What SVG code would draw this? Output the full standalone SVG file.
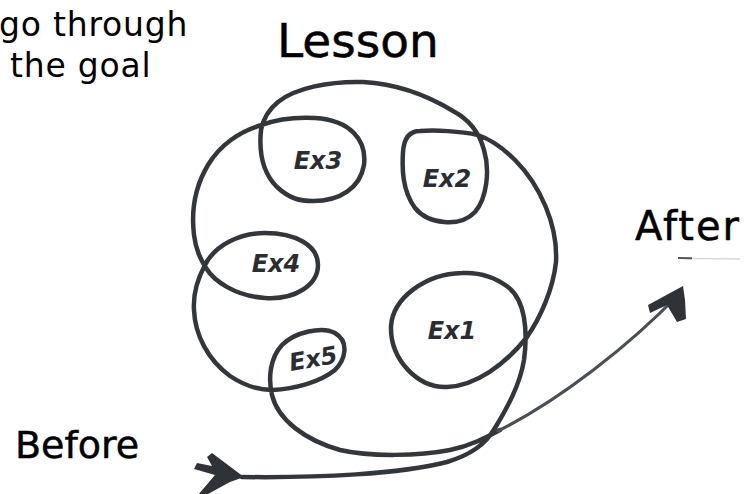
<svg xmlns="http://www.w3.org/2000/svg" width="750" height="494" viewBox="0 0 750 494">
<style>
.lbl{font-family:"DejaVu Sans",sans-serif;fill:#000;stroke:#000;stroke-width:0.5}
.cap{font-family:"DejaVu Sans","Liberation Sans",sans-serif;font-size:33px;fill:#000;letter-spacing:0.8px}
.ex{font-family:"DejaVu Sans",sans-serif;font-style:italic;font-weight:bold;font-size:24px;fill:#2a2e32;text-anchor:middle}
.pen{fill:none;stroke:#33373b;stroke-width:4.5;stroke-linecap:round;stroke-linejoin:round}
.pen2{fill:none;stroke:#4a4f55;stroke-width:3.2;stroke-linecap:round}
.head{fill:#2f3337}
</style>
<rect width="750" height="494" fill="#fff"/>
<g id="caption">
<text class="cap" x="-1" y="36">go through</text>
<text class="cap" x="10" y="77">the goal</text>
</g>
<g id="lesson"><text class="lbl" x="277" y="57" font-size="47">Lesson</text></g>
<g id="before"><text class="lbl" x="15" y="458" font-size="38">Before</text></g>
<g id="after"><text class="lbl" x="635" y="240" font-size="40" letter-spacing="2">After</text>
<line x1="686" y1="258.5" x2="740" y2="259" stroke="#d8d8d8" stroke-width="1.5"/>
<line x1="678" y1="258" x2="692" y2="258.3" stroke="#555" stroke-width="2"/>
</g>
<g id="connectors">
<path class="pen" d="M242,477 C320,478 400,474 447,462 C470,455 485,445 495,428 C507,408 520,385 524,360 C528,330 525,300 508,287 C495,277 480,272 462,273 C425,274 393,298 391,326 C390,360 418,388 447,387 C475,386 505,365 527,337 C540,318 553,290 556,262 C558,225 540,185 515,160 C503,148 492,140 478,135 C460,131 435,130 420,131 C410,131 404,138 403,152 C402,168 402,190 415,208 C428,224 460,228 475,212 C487,198 490,170 484,150 C480,135 470,120 453,111 C430,97 400,84 363,82 C330,81 295,88 278,102 C268,110 263,120 261,130 C259,150 262,172 277,187 C290,199 300,201 313,201 C340,201 360,188 364,165 C367,140 350,120 315,118 C295,117 275,120 262,125 C240,131 220,145 208,165 C196,185 191,210 194,235 C196,250 200,258 206,268 C214,281 235,296 265,298 C295,300 318,285 318,265 C318,245 295,233 265,233 C240,233 215,245 205,265 C198,278 193,295 194,310 C195,335 208,360 230,376 C245,386 258,390 272,390 C295,389 320,382 335,370 C345,360 350,342 335,333 C322,326 295,332 282,345 C270,358 268,378 272,395 C278,420 305,440 340,450 C370,457 420,456 450,450 C470,446 485,438 500,430"/>
<path class="pen2" d="M498,431 C560,400 630,345 679,294"/>
<polygon class="head" points="244,477 224,462 212,453 207,457 212,466 197,463 194,469 215,475 198,495 208,494 230,482"/>
<polygon class="head" points="683,286 648,305 650,313 667,305 677,322 686,319 685,300"/>
</g>
<g id="ex3"><text class="ex" x="318" y="169">Ex3</text></g>
<g id="ex2"><text class="ex" x="447" y="187">Ex2</text></g>
<g id="ex4"><text class="ex" x="276" y="272">Ex4</text></g>
<g id="ex5"><text class="ex" x="313" y="367" transform="rotate(-10 313 358)">Ex5</text></g>
<g id="ex1"><text class="ex" x="452" y="339" font-weight="normal">Ex1</text></g>
</svg>
